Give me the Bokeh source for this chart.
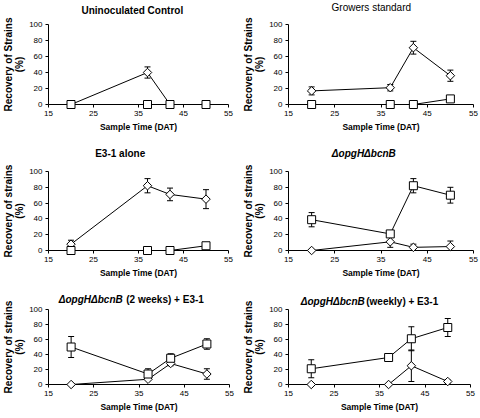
import math
from bokeh.plotting import figure
from bokeh.models import Range1d, FixedTicker, Whisker, TeeHead, ColumnDataSource
from bokeh.core.properties import value
from bokeh.layouts import column, row
from bokeh.embed import file_html
from bokeh.resources import INLINE

# ---------------- data ----------------
days = [20, 37, 42, 50]
x_ticks = [15, 25, 35, 45, 55]
y_ticks = [0, 20, 40, 60, 80, 100]

# Uninoculated Control
ctrl_square = [0, 0, 0, 0]
ctrl_square_err = [0, 0, 0, 0]
ctrl_diamond = [0, 40, 0, 0]
ctrl_diamond_err = [0, 7, 0, 0]

# Growers standard
grow_square = [0, 0, 0, 7]
grow_square_err = [0, 0, 0, 2]
grow_diamond = [17, 21, 71, 36]
grow_diamond_err = [5, 4, 8, 7]

# E3-1 alone
e31_square = [0, 0, 0, 6]
e31_square_err = [0, 0, 0, 3]
e31_diamond = [8, 82, 71, 65]
e31_diamond_err = [5, 9, 8, 12]

# ΔopgHΔbcnB
mut_square = [39, 21, 82, 70]
mut_square_err = [9, 2, 9, 10]
mut_diamond = [0, 11, 4, 5]
mut_diamond_err = [0, 7, 4, 7]

# ΔopgHΔbcnB (2 weeks) + E3-1
two_square = [50, 14, 35, 54]
two_square_err = [14, 7, 6, 7]
two_diamond = [0, 7, 28, 14]
two_diamond_err = [0, 0, 3, 7]

# ΔopgHΔbcnB (weekly) + E3-1
wk_square = [21, 36, 61, 76]
wk_square_err = [12, 0, 16, 12]
wk_diamond = [0, 0, 25, 4]
wk_diamond_err = [0, 0, 21, 2]

x_label = "Sample Time (DAT)"
y_label_upper = "Recovery of Strains\n(%)"
y_label_lower = "Recovery of strains\n(%)"

# ---------------- styling ----------------
FONT = "Liberation Sans"

# approximate Arial Bold advance widths (per 1000 em) for centering composite titles
BOLD_W = {' ': 278, '(': 333, ')': 333, '+': 584, '-': 333, '1': 556, '2': 556,
          '3': 556, 'E': 667, 'a': 556, 'b': 611, 'c': 556, 'e': 556, 'g': 611,
          'k': 556, 'l': 278, 'n': 611, 'o': 611, 'p': 611, 's': 556, 'w': 778,
          'y': 556, 'H': 722, 'B': 722, 'Δ': 668}


def text_width(s, size):
    return sum(BOLD_W.get(c, 556) for c in s) / 1000.0 * size


def make_panel(sq, sq_err, dm, dm_err, ylabel, pieces, box, title_c, gap=0.0):
    W, H, left, fw, top, bottom = box
    right = W - left - fw
    p = figure(width=W, height=H, x_range=Range1d(15, 55), y_range=Range1d(0, 100),
               output_backend="svg", toolbar_location=None,
               min_border_left=left, min_border_right=right,
               min_border_top=top, min_border_bottom=H - bottom)
    p.outline_line_color = None
    p.grid.visible = False
    p.background_fill_color = "white"
    p.border_fill_color = "white"

    for ax in (p.xaxis[0], p.yaxis[0]):
        ax.axis_line_color = "black"
        ax.axis_line_width = 1
        ax.major_tick_line_color = "black"
        ax.major_tick_out = 3
        ax.major_tick_in = 0
        ax.minor_tick_line_color = None
        ax.major_label_text_font = FONT
        ax.major_label_text_font_size = "8px"
        ax.major_label_text_color = "black"
        ax.axis_label_text_font = FONT
        ax.axis_label_text_font_style = "bold"
        ax.axis_label_text_color = "black"
    p.xaxis[0].ticker = FixedTicker(ticks=x_ticks)
    p.yaxis[0].ticker = FixedTicker(ticks=y_ticks)
    p.xaxis[0].axis_label = x_label
    p.xaxis[0].axis_label_text_font_size = "8.5px"
    p.xaxis[0].axis_label_standoff = 3
    p.xaxis[0].major_label_standoff = 3
    p.yaxis[0].axis_label = ylabel
    p.yaxis[0].axis_label_text_font_size = "10px"
    p.yaxis[0].axis_label_text_line_height = 1.0
    p.yaxis[0].axis_label_standoff = 1
    p.yaxis[0].major_label_standoff = 3

    # lines
    p.line(days, dm, line_color="black", line_width=1)
    p.line(days, sq, line_color="black", line_width=1)

    # error bars
    for vals, errs in ((dm, dm_err), (sq, sq_err)):
        xs = [d for d, e in zip(days, errs) if e > 0]
        up = [v + e for v, e in zip(vals, errs) if e > 0]
        lo = [v - e for v, e in zip(vals, errs) if e > 0]
        if xs:
            src = ColumnDataSource(dict(x=xs, upper=up, lower=lo))
            w = Whisker(source=src, base="x", upper="upper", lower="lower",
                        line_color="black", line_width=1, level="annotation",
                        upper_head=TeeHead(size=6, line_color="black", line_width=1),
                        lower_head=TeeHead(size=6, line_color="black", line_width=1))
            p.add_layout(w)

    # markers (overlay level so the ones sitting on the axis are not cut);
    # the diamond is a square turned by 45 degrees, as wide as it is tall
    p.scatter(days, dm, marker="square", angle=math.pi / 4, size=6, fill_color="white",
              line_color="black", line_width=1, level="overlay")
    p.scatter(days, sq, marker="square", size=8, fill_color="white",
              line_color="black", line_width=1, level="overlay")

    # title (may mix italic and upright pieces), drawn as text glyphs above the frame
    fh = bottom - top
    cx, cy = title_c
    total = sum(text_width(t, 10) for t, _ in pieces) + gap * (len(pieces) - 1)
    x_px = cx - total / 2.0
    y_data = 100 + (top - cy) / fh * 100
    for t, style in pieces:
        p.text(x=[15 + (x_px - left) / fw * 40], y=[y_data], text=[t],
               text_font=value(FONT), text_font_size=value("10px"),
               text_font_style=value(style), text_align="left",
               text_baseline="middle", text_color="black", level="overlay")
        x_px += text_width(t, 10) + gap
    return p


# box = (width, height, left border, frame width, frame top, frame bottom)
p1 = make_panel(ctrl_square, ctrl_square_err, ctrl_diamond, ctrl_diamond_err,
                y_label_upper, [("Uninoculated Control", "bold")],
                (240, 140, 43, 185, 21, 106), (130, 6))
p2 = make_panel(grow_square, grow_square_err, grow_diamond, grow_diamond_err,
                y_label_upper, [("Growers standard", "normal")],
                (240, 140, 43, 190, 24, 104), (132, 7))
p3 = make_panel(e31_square, e31_square_err, e31_diamond, e31_diamond_err,
                y_label_lower, [("E3-1 alone", "bold")],
                (240, 140, 43, 185, 31, 111), (116, 12.5))
p4 = make_panel(mut_square, mut_square_err, mut_diamond, mut_diamond_err,
                y_label_lower, [("ΔopgHΔbcnB", "bold italic")],
                (240, 140, 45, 188, 30, 111), (121, 11.5))
p5 = make_panel(two_square, two_square_err, two_diamond, two_diamond_err,
                y_label_lower, [("ΔopgHΔbcnB", "bold italic"), ("(2 weeks) + E3-1", "bold")],
                (240, 138, 43, 186, 29, 107), (127, 19), gap=5.5)
p6 = make_panel(wk_square, wk_square_err, wk_diamond, wk_diamond_err,
                y_label_lower, [("ΔopgHΔbcnB", "bold italic"), ("(weekly) + E3-1", "bold")],
                (240, 138, 44, 186, 24, 104), (126, 15.5), gap=3)

layout = column(row(p1, p2), row(p3, p4), row(p5, p6))
open("out.html", "w").write(file_html(layout, INLINE))
